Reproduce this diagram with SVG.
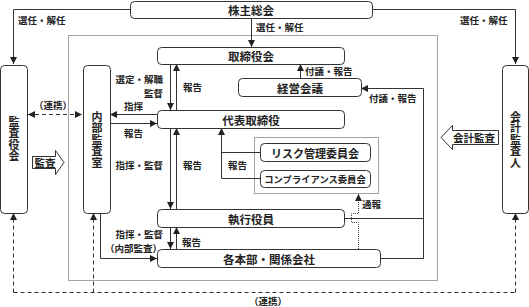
<svg xmlns="http://www.w3.org/2000/svg" width="529" height="307" viewBox="0 0 529 307">
<defs>
<marker id="arr" markerUnits="userSpaceOnUse" markerWidth="7" markerHeight="7" refX="7" refY="3.5" orient="auto-start-reverse">
<path d="M0,0 L7,3.5 L0,7 z" fill="#222"/>
</marker>
</defs>
<style>
text{font-family:"Noto Sans CJK JP","Noto Sans CJK SC",sans-serif;font-weight:bold;fill:#222}
.box{fill:#fff;stroke:#333;stroke-width:1}
.t{font-size:11.5px;text-anchor:middle;dominant-baseline:central}
.v{font-size:11px;text-anchor:middle;writing-mode:vertical-rl;text-orientation:upright;letter-spacing:0.5px}
.l{font-size:9.5px;dominant-baseline:central}
.r{text-anchor:end}
.ln{fill:none;stroke:#333;stroke-width:1}
.dash{fill:none;stroke:#333;stroke-width:1;stroke-dasharray:4,3}
.dot{fill:none;stroke:#444;stroke-width:1;stroke-dasharray:1,1}
.blk{fill:#fff;stroke:#333;stroke-width:1}
</style>

<rect class="dot" x="68.5" y="35.5" width="369" height="245"/>
<rect class="dot" x="254.5" y="137.5" width="124" height="56"/>

<g id="connectors">
<path class="ln" d="M130,9.5 H13.5 V64" marker-end="url(#arr)"/>
<path class="ln" d="M372,9.5 H515.5 V64" marker-end="url(#arr)"/>
<path class="ln" d="M251.5,18 V47" marker-end="url(#arr)"/>
<path class="ln" d="M300.5,78 V64" marker-end="url(#arr)"/>
<path class="ln" d="M380,258.5 H423.5 V88.5 H361" marker-end="url(#arr)"/>
<path class="ln" d="M344,218.5 H423.5"/>
<path class="ln" d="M170.5,64 V110" marker-end="url(#arr)"/>
<path class="ln" d="M176.5,110 V64" marker-end="url(#arr)"/>
<path class="ln" d="M170.5,128 V209" marker-end="url(#arr)"/>
<path class="ln" d="M176.5,209 V128" marker-end="url(#arr)"/>
<path class="ln" d="M170.5,227 V249" marker-end="url(#arr)"/>
<path class="ln" d="M176.5,249 V227" marker-end="url(#arr)"/>
<path class="ln" d="M260,152.5 H221.5"/>
<path class="ln" d="M260,178.5 H221.5 V128" marker-end="url(#arr)"/>
<path class="ln" d="M157,114.5 H110" marker-end="url(#arr)"/>
<path class="ln" d="M110,123.5 H157" marker-end="url(#arr)"/>
<path class="ln" d="M100.5,213 V258.5 H157" marker-end="url(#arr)"/>
<path class="dash" d="M28,114.5 H82" marker-start="url(#arr)" marker-end="url(#arr)"/>
<path class="dash" d="M13.5,292.5 H515.5"/>
<path class="dash" d="M13.5,292.5 V213" marker-end="url(#arr)"/>
<path class="dash" d="M93.5,292.5 V213" marker-end="url(#arr)"/>
<path class="dash" d="M515.5,292.5 V213" marker-end="url(#arr)"/>
<path class="dot" d="M358.5,249 V222.5 H351.5 V213.5 H358.5 V194" marker-end="url(#arr)"/>
</g>

<g id="labels">
<text class="l" x="18" y="20">選任・解任</text>
<text class="l" x="460" y="20">選任・解任</text>
<text class="l" x="256" y="27">選任・解任</text>
<text class="l" x="305" y="71">付議・報告</text>
<text class="l" x="369" y="98">付議・報告</text>
<text class="l r" x="163" y="79">選定・解職</text>
<text class="l r" x="163" y="93">監督</text>
<text class="l" x="183" y="87">報告</text>
<text class="l" x="124" y="106">指揮</text>
<text class="l" x="124" y="133">報告</text>
<text class="l" x="34" y="105">（連携）</text>
<text class="l r" x="163" y="165">指揮・監督</text>
<text class="l" x="183" y="165">報告</text>
<text class="l" x="228" y="165">報告</text>
<text class="l r" x="163" y="234">指揮・監督</text>
<text class="l" x="105" y="248">（内部監査）</text>
<text class="l" x="182" y="242">報告</text>
<text class="l" x="362" y="204">通報</text>
<text class="l" x="249" y="301">（連携）</text>
</g>

<g id="kansa-arrow">
<polygon class="blk" points="32.5,156.5 55.5,156.5 55.5,150.5 64,162.5 55.5,174.5 55.5,168.5 32.5,168.5"/>
<text class="t" x="45" y="162.5" style="font-size:10.5px">監査</text>
</g>
<g id="kaikei-arrow">
<polygon class="blk" points="498.5,130.5 452.5,130.5 452.5,125.5 441,137.5 452.5,149.5 452.5,144.5 498.5,144.5"/>
<text class="t" x="474" y="137.5" style="font-size:10.5px">会計監査</text>
</g>

<g id="kabunushi"><rect class="box" x="130.5" y="1.5" width="242" height="17" rx="4"/><text class="t" x="251" y="10">株主総会</text></g>
<g id="kansayakukai"><rect class="box" x="0.5" y="65.5" width="27" height="148" rx="4"/>
<text class="v" x="14" y="139">監査役会</text></g>
<g id="naibukansa"><rect class="box" x="83.5" y="65.5" width="27" height="148" rx="4"/>
<text class="v" x="97" y="140">内部監査室</text></g>
<g id="kaikeikansanin"><rect class="box" x="502.5" y="65.5" width="26" height="148" rx="4"/>
<text class="v" x="515.5" y="140">会計監査人</text></g>
<g id="torishimariyakukai"><rect class="box" x="157.5" y="47.5" width="187" height="17" rx="4"/><text class="t" x="251" y="56">取締役会</text></g>
<g id="keieikaigi"><rect class="box" x="238.5" y="78.5" width="123" height="18" rx="4"/><text class="t" x="300" y="87.5">経営会議</text></g>
<g id="daihyo"><rect class="box" x="157.5" y="110.5" width="187" height="18" rx="4"/><text class="t" x="251" y="119.5">代表取締役</text></g>
<g id="risk"><rect class="box" x="260.5" y="143.5" width="110" height="18" rx="4"/><text class="t" x="315" y="152.5" style="font-size:11px">リスク管理委員会</text></g>
<g id="compliance"><rect class="box" x="260.5" y="170.5" width="110" height="17" rx="4"/><text class="t" x="315" y="179" style="font-size:9.3px">コンプライアンス委員会</text></g>
<g id="shikkoyakuin"><rect class="box" x="157.5" y="209.5" width="187" height="18" rx="4"/><text class="t" x="251" y="218.5">執行役員</text></g>
<g id="kakuhonbu"><rect class="box" x="157.5" y="249.5" width="223" height="18" rx="4"/><text class="t" x="269" y="258.5">各本部・関係会社</text></g>
</svg>
